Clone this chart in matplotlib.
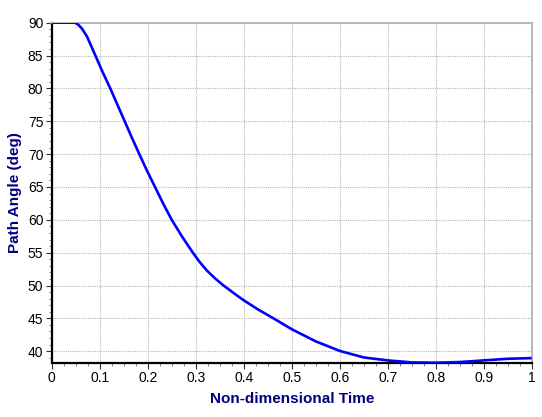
import matplotlib
matplotlib.use("Agg")
import matplotlib.pyplot as plt
from matplotlib.ticker import MultipleLocator

t = [0.0, 0.049, 0.056, 0.063, 0.0735, 0.091, 0.106, 0.122, 0.137, 0.152, 0.167,
     0.1825, 0.198, 0.2152, 0.232, 0.25, 0.272, 0.294, 0.308, 0.323, 0.34, 0.358,
     0.38, 0.40, 0.43, 0.462, 0.5, 0.55, 0.6, 0.65, 0.7, 0.75, 0.8, 0.85, 0.9, 0.95, 1.0]
angle = [90.0, 90.0, 89.65, 89.1, 87.9, 85.0, 82.5, 80.0, 77.5, 75.0, 72.5,
         70.0, 67.55, 65.0, 62.5, 60.0, 57.4, 55.0, 53.6, 52.3, 51.1, 50.0,
         48.8, 47.75, 46.35, 45.0, 43.35, 41.5, 40.05, 39.05, 38.6, 38.3, 38.25, 38.35, 38.6, 38.85, 38.95]

x_ticks = [0, 0.1, 0.2, 0.3, 0.4, 0.5, 0.6, 0.7, 0.8, 0.9, 1]
x_tick_labels = ["0", "0.1", "0.2", "0.3", "0.4", "0.5", "0.6", "0.7", "0.8", "0.9", "1"]
y_ticks = [40, 45, 50, 55, 60, 65, 70, 75, 80, 85, 90]

plt.rcParams['font.family'] = ['Liberation Sans', 'DejaVu Sans']

fig = plt.figure(figsize=(5.42, 4.17), dpi=100)
ax = fig.add_axes([0.0954, 0.1302, 0.981 - 0.0954, 0.9456 - 0.1302])

ax.plot(t, angle, color='#0000ff', linewidth=1.9, zorder=3,
        solid_joinstyle='round', solid_capstyle='butt')

ax.set_xlim(0, 1)
ax.set_ylim(38.25, 90)
ax.set_xticks(x_ticks)
ax.set_xticklabels(x_tick_labels)
ax.set_yticks(y_ticks)
ax.xaxis.set_minor_locator(MultipleLocator(0.025))
ax.yaxis.set_minor_locator(MultipleLocator(1))

ax.grid(True, which='major', color='#b8b8b8', linestyle=(0, (1, 1)), linewidth=0.8)
ax.tick_params(axis='both', which='major', direction='out', length=4, width=0.8,
               labelsize=10, colors='#333333', labelcolor='black', pad=2)
ax.tick_params(axis='both', which='minor', direction='out', length=2.5, width=0.6, colors='#666666')

for side in ['left', 'bottom']:
    ax.spines[side].set_color('black')
    ax.spines[side].set_linewidth(1.6)
for side in ['top', 'right']:
    ax.spines[side].set_color('#b8b8b8')
    ax.spines[side].set_linewidth(1.4)

ax.set_xlabel('Non-dimensional Time', fontsize=11, fontweight='bold', color='#000080', labelpad=5)
ax.set_ylabel('Path Angle (deg)', fontsize=11, fontweight='bold', color='#000080', labelpad=4)

fig.savefig('out.png', dpi=100)
